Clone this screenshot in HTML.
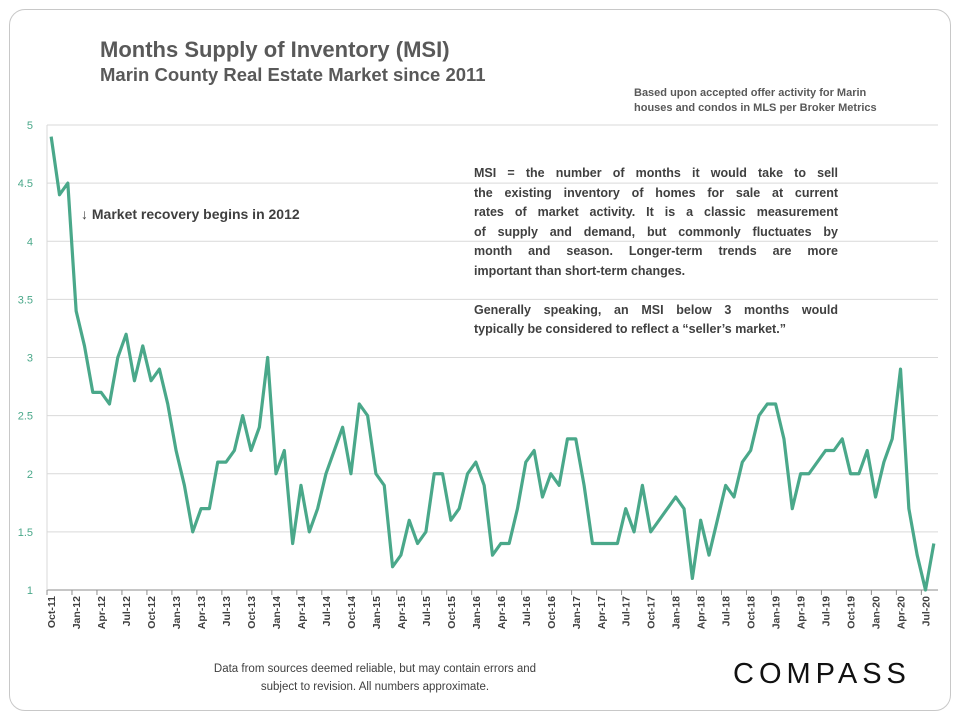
<!DOCTYPE html>
<html><head><meta charset="utf-8"><style>
body{margin:0;background:#fff;font-family:"Liberation Sans",sans-serif;}
#wrap{position:relative;width:960px;height:720px;overflow:hidden;}
.card{position:absolute;left:9px;top:9px;width:940px;height:700px;border:1px solid #c8c8c8;border-radius:16px;}
.t1{position:absolute;left:100px;top:37px;font-size:22px;font-weight:bold;color:#595959;}
.t2{position:absolute;left:100px;top:64px;font-size:18.5px;font-weight:bold;color:#595959;}
.note{position:absolute;left:634px;top:86px;font-size:11px;font-weight:bold;color:#595959;line-height:15px;}
.box{position:absolute;left:474px;top:164px;width:364px;font-size:12.5px;font-weight:bold;color:#404040;line-height:19.5px;}
.box div{text-align:justify;text-align-last:justify;white-space:nowrap;}
.box div.l{text-align-last:left;}
.ann{position:absolute;left:81px;top:206px;font-size:14px;font-weight:bold;color:#404040;}
.foot{position:absolute;left:170px;top:660px;width:410px;text-align:center;font-size:11.5px;color:#404040;line-height:18px;}
.logo{position:absolute;left:733px;top:658px;font-size:29px;letter-spacing:5px;color:#111;}
</style></head><body><div id="wrap">
<div class="card"></div>
<div class="t1">Months Supply of Inventory (MSI)</div>
<div class="t2">Marin County Real Estate Market since 2011</div>
<div class="note">Based upon accepted offer activity for Marin<br>houses and condos in MLS per Broker Metrics</div>
<svg id="chart" width="960" height="720" style="position:absolute;left:0;top:0"></svg>
<div class="ann">↓ Market recovery begins in 2012</div>
<div class="box">
<div>MSI = the number of months it would take to sell</div>
<div>the existing inventory of homes for sale at current</div>
<div>rates of market activity. It is a classic measurement</div>
<div>of supply and demand, but commonly fluctuates by</div>
<div>month and season. Longer-term trends are more</div>
<div class="l">important than short-term changes.</div>
<div>&nbsp;</div>
<div>Generally speaking, an MSI below 3 months would</div>
<div class="l">typically be considered to reflect a “seller’s market.”</div>
</div>
<div class="foot">Data from sources deemed reliable, but may contain errors and<br>subject to revision. All numbers approximate.</div>
<div class="logo">COMPASS</div>
</div>
<script>
const values=[4.9,4.4,4.5,3.4,3.1,2.7,2.7,2.6,3.0,3.2,2.8,3.1,2.8,2.9,2.6,2.2,1.9,1.5,1.7,1.7,2.1,2.1,2.2,2.5,2.2,2.4,3.0,2.0,2.2,1.4,1.9,1.5,1.7,2.0,2.2,2.4,2.0,2.6,2.5,2.0,1.9,1.2,1.3,1.6,1.4,1.5,2.0,2.0,1.6,1.7,2.0,2.1,1.9,1.3,1.4,1.4,1.7,2.1,2.2,1.8,2.0,1.9,2.3,2.3,1.9,1.4,1.4,1.4,1.4,1.7,1.5,1.9,1.5,1.6,1.7,1.8,1.7,1.1,1.6,1.3,1.6,1.9,1.8,2.1,2.2,2.5,2.6,2.6,2.3,1.7,2.0,2.0,2.1,2.2,2.2,2.3,2.0,2.0,2.2,1.8,2.1,2.3,2.9,1.7,1.3,1.0,1.4];
const yTicks=[1,1.5,2,2.5,3,3.5,4,4.5,5];
const yTickLabels=["1","1.5","2","2.5","3","3.5","4","4.5","5"];
const monthNames=["Jan","Feb","Mar","Apr","May","Jun","Jul","Aug","Sep","Oct","Nov","Dec"];
const startMonth=9, startYear=2011;
const NS="http://www.w3.org/2000/svg";
const svg=document.getElementById('chart');
const x0=47,x1=938,yTop=125,yBot=590;
const step=(x1-x0)/values.length;
const xs=i=>x0+step*(i+0.5);
const ys=v=>yBot-(v-1)/4*(yBot-yTop);
function el(t,a){const e=document.createElementNS(NS,t);for(const k in a)e.setAttribute(k,a[k]);svg.appendChild(e);return e;}
yTicks.forEach((v,i)=>{
 if(v>1){const g=el('line',{x1:x0,x2:x1,y1:ys(v),y2:ys(v),stroke:'#d9d9d9','stroke-width':1});
 
 }
 const t=el('text',{x:33,y:ys(v)+4,'text-anchor':'end','font-size':11,'font-family':'Liberation Sans, sans-serif',fill:'#4aa88a'});
 t.textContent=yTickLabels[i];
 
 
});
const ax=el('line',{x1:x0,x2:x1,y1:yBot,y2:yBot,stroke:'#8c8c8c','stroke-width':1});


const ay=el('line',{x1:x0,x2:x0,y1:yTop,y2:yBot,stroke:'#d9d9d9','stroke-width':1});


for(let i=0;i<values.length;i+=3){
 const tx=x0+step*i;
 const tk=el('line',{x1:tx,x2:tx,y1:yBot,y2:yBot+5,stroke:'#8c8c8c'});
 
 
 const m=(startMonth+i)%12, y=startYear+Math.floor((startMonth+i)/12);
 const lx=xs(i)+4, ly=596;
 const t=el('text',{x:lx,y:ly,transform:`rotate(-90 ${lx} ${ly})`,'text-anchor':'end','font-size':10.5,'font-weight':'bold','font-family':'Liberation Sans, sans-serif',fill:'#404040'});
 t.textContent=monthNames[m]+'-'+String(y).slice(2);
 
 
}
const p=el('polyline',{points:values.map((v,i)=>xs(i)+','+ys(v)).join(' '),fill:'none',stroke:'#4aa88a','stroke-width':3.2,'stroke-linejoin':'round'});


</script></body></html>
